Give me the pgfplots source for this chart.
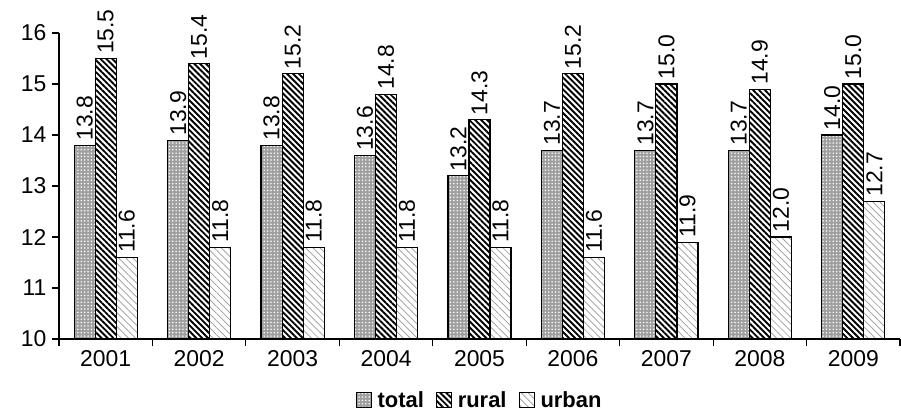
\documentclass[border=0pt]{standalone}
\usepackage{pgfplots}
\pgfplotsset{compat=1.18}
\usetikzlibrary{patterns.meta}
\usepackage{fontspec}
\setmainfont{Liberation Sans}
\newcommand\chartfont{\fontsize{23}{26}\selectfont}
\newcommand\legfont{\bfseries\fontsize{22}{25}\selectfont}
\begin{document}
\begin{tikzpicture}
\useasboundingbox (0,0) rectangle (901bp,414bp);
\begin{axis}[
  at={(59bp,75bp)}, anchor=south west,
  scale only axis, width=841bp, height=306bp,
  ybar=0pt, bar width=0.225,
  xmin=-0.5, xmax=8.5, ymin=10, ymax=16,
  ytick={10,11,...,16},
  xtick={-0.5,0.5,...,8.5},
  x tick label as interval,
  xticklabels={2001,2002,2003,2004,2005,2006,2007,2008,2009},
  axis x line*=bottom, axis y line*=left,
  tick align=outside, major tick length=7bp,
  every tick/.style={black, line width=1.2pt},
  axis line style={line width=1.2pt},
  ticklabel style={font=\chartfont},
  yticklabel style={xshift=-2bp},
  xticklabel style={yshift=-1bp},
  /pgf/number format/assume math mode=true,
  nodes near coords={\pgfmathprintnumber[fixed,fixed zerofill,precision=1]{\pgfplotspointmeta}},
  every node near coord/.append style={rotate=90, anchor=west, font=\chartfont, inner sep=4bp},
  legend style={at={(0.5,-0.165)}, anchor=north, draw=none, legend columns=3,
    font=\legfont, inner sep=0pt,
    /tikz/every odd column/.append style={column sep=4bp},
    /tikz/every even column/.append style={column sep=10bp}},
  legend image code/.code={\draw[#1, line width=1pt] (0bp,-7bp) rectangle (15bp,8bp);},
]
\addplot[draw=black, line width=1.2pt, fill=gray!75,
  postaction={pattern={Dots[distance=3.4pt,radius=0.85pt]}, pattern color=white}]
  coordinates {(0,13.8) (1,13.9) (2,13.8) (3,13.6) (4,13.2) (5,13.7) (6,13.7) (7,13.7) (8,14.0)};
\addlegendentry{total}
\addplot[draw=black, line width=1.2pt, pattern={Lines[angle=-45,distance=4.2pt,line width=1.9pt]}, pattern color=black]
  coordinates {(0,15.5) (1,15.4) (2,15.2) (3,14.8) (4,14.3) (5,15.2) (6,15.0) (7,14.9) (8,15.0)};
\addlegendentry{rural}
\addplot[draw=black, line width=1.2pt, pattern={Lines[angle=-45,distance=5pt,line width=0.7pt]}, pattern color=gray!80]
  coordinates {(0,11.6) (1,11.8) (2,11.8) (3,11.8) (4,11.8) (5,11.6) (6,11.9) (7,12.0) (8,12.7)};
\addlegendentry{urban}
\end{axis}
\end{tikzpicture}
\end{document}
